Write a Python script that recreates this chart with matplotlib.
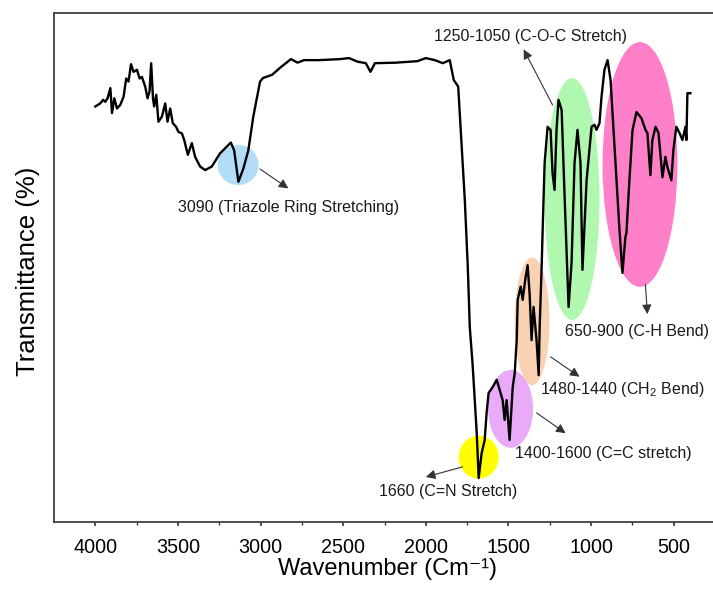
import matplotlib
matplotlib.use('Agg')
import matplotlib.pyplot as plt
from matplotlib.patches import Ellipse
from matplotlib.ticker import FixedLocator

plt.rcParams['font.family'] = ['Liberation Sans', 'DejaVu Sans']
plt.rcParams['mathtext.fontset'] = 'custom'
plt.rcParams['mathtext.rm'] = 'Liberation Sans'
plt.rcParams['mathtext.default'] = 'regular'

# spectre (nombre d'onde en cm-1, transmittance en unites arbitraires)
wavenumber = [4000, 3970, 3953, 3940, 3926, 3909, 3899, 3885, 3869, 3849, 3829, 3813,
              3799, 3784, 3769, 3748, 3732, 3718, 3698, 3684, 3672, 3662, 3651, 3644,
              3631, 3618, 3597, 3577, 3563, 3547, 3531, 3511, 3497, 3476,
              3462, 3440, 3416, 3396, 3366, 3335, 3295, 3245, 3180, 3160, 3134, 3104,
              3074, 3044, 3003, 2985, 2931, 2882, 2816, 2776, 2737, 2647, 2520, 2465,
              2413, 2363, 2335, 2308, 2181, 2050, 2000, 1946, 1897, 1855, 1831, 1804,
              1764, 1746, 1734, 1716, 1692, 1680, 1662, 1644, 1632, 1620, 1595, 1571,
              1553, 1535, 1523, 1511, 1493, 1474, 1462, 1450, 1444, 1426, 1414, 1396,
              1384, 1372, 1360, 1348, 1330, 1317, 1311, 1299, 1293, 1281, 1263, 1245,
              1233, 1221, 1209, 1197, 1178, 1160, 1136, 1118, 1100, 1082, 1064, 1052,
              1027, 997, 979, 967, 949, 937, 919, 900, 882, 858, 828, 810, 792, 786,
              768, 749, 725, 695, 671, 659, 641, 629, 610, 592, 568, 550, 538, 514,
              502, 484, 465, 447, 429, 423, 417, 399]
transmittance = [81.7, 82.3, 83.0, 82.6, 83.3, 85.3, 80.4, 83.3, 81.3, 82.0, 83.6, 87.2,
                 86.6, 90.0, 88.5, 88.9, 87.2, 87.5, 85.6, 83.3, 84.6, 90.2, 83.3, 81.7,
                 84.0, 78.7, 79.7, 82.3, 78.7, 81.3, 78.4, 77.7, 76.7, 76.4,
                 75.1, 72.2, 74.5, 71.8, 69.9, 69.2, 69.9, 72.5, 74.6, 73.1, 66.9, 69.5,
                 73.1, 79.7, 86.6, 87.3, 87.9, 89.3, 91.0, 90.3, 90.8, 90.8, 91.0, 91.2,
                 90.5, 90.2, 88.5, 90.2, 90.3, 90.6, 91.2, 90.8, 90.2, 90.8, 86.9, 85.6,
                 63.3, 50.2, 38.4, 30.6, 17.6, 8.7, 13.6, 16.1, 21.5, 25.4, 26.6, 28.0,
                 26.0, 24.0, 20.1, 24.0, 16.2, 26.6, 29.3, 35.8, 43.7, 46.3, 43.7, 48.2,
                 50.5, 45.0, 35.8, 42.3, 35.8, 28.9, 38.4, 50.2, 57.4, 70.6, 77.7, 77.1,
                 68.6, 65.3, 77.1, 83.0, 81.0, 63.9, 42.3, 51.0, 70.6, 77.1, 70.6, 49.6,
                 67.2, 77.7, 78.1, 77.1, 78.4, 83.5, 88.9, 90.8, 86.9, 73.7, 57.4, 49.0,
                 56.1, 56.8, 67.2, 77.1, 80.6, 79.4, 77.1, 76.5, 68.2, 75.1, 77.7, 76.5,
                 67.8, 71.8, 69.8, 67.2, 73.1, 77.7, 76.5, 75.1, 77.7, 75.1, 84.3, 84.3]

# zones colorees : centre (cm-1, T), largeur, hauteur, couleur
zone_centres = [(3136, 70.2), (1680, 12.8), (1487, 22.3), (1357, 39.5), (1115, 63.5), (704, 70.3)]
zone_tailles = [(248, 7.9), (242, 8.45), (272, 15.3), (211, 25.1), (332, 47.5), (453, 48.1)]
zone_couleurs = ['#b3ddf7', '#ffff00', '#e9aaf7', '#f8d2b3', '#b0f8b0', '#ff80c8']

# annotations : texte, position du texte, debut et fin de la fleche
labels = ['3090 (Triazole Ring Stretching)', '1660 (C=N Stretch)', '1400-1600 (C=C stretch)',
          '1480-1440 (CH$_2$ Bend)', '650-900 (C-H Bend)', '1250-1050 (C-O-C Stretch)']
label_pos = [(2828, 61.8), (1862, 6.1), (925, 13.6), (810, 26.0), (722, 37.4), (1369, 95.4)]
fleche_debut = [(3003, 69.4), (1777, 10.9), (1330, 21.5), (1245, 32.5), (671, 46.7), (1233, 82.0)]
fleche_fin = [(2832, 65.6), (2000, 8.9), (1154, 17.5), (1070, 28.6), (659, 40.9), (1408, 92.9)]

major_ticks = [4000, 3500, 3000, 2500, 2000, 1500, 1000, 500]
minor_ticks = [3750, 3250, 2750, 2250, 1750, 1250, 750, 250]

fig = plt.figure(figsize=(7.13, 6.02), dpi=100)
ax = fig.add_axes([54 / 713, 79.7 / 602, 661 / 713, 509 / 602])

for c, t, col in zip(zone_centres, zone_tailles, zone_couleurs):
    ax.add_patch(Ellipse(c, t[0], t[1], facecolor=col, edgecolor='none', zorder=1))

ax.plot(wavenumber, transmittance, color='black', lw=1.7, zorder=3)

for txt, pos, d, f in zip(labels, label_pos, fleche_debut, fleche_fin):
    ax.annotate('', xy=f, xytext=d,
                arrowprops=dict(arrowstyle='-|>', color='#333333', lw=0.8,
                                mutation_scale=14, shrinkA=0, shrinkB=0), zorder=4)
    ax.text(pos[0], pos[1], txt, ha='center', va='center', fontsize=11.5,
            color='#1a1a1a', zorder=5)

ax.set_xlim(4250, 250)
ax.set_ylim(0, 100)
ax.xaxis.set_major_locator(FixedLocator(major_ticks))
ax.xaxis.set_minor_locator(FixedLocator(minor_ticks))
ax.set_yticks([])
ax.tick_params(axis='x', which='major', direction='out', length=3, width=1.2,
               labelsize=14.2, color='#333333', pad=8.5)
ax.tick_params(axis='x', which='minor', direction='out', length=2, width=1.0, color='#333333')
for s in ax.spines.values():
    s.set_color('#404040')
    s.set_linewidth(1.3)

ax.set_xlabel('Wavenumber (Cm\u207b\u00b9)', fontsize=17)
ax.set_ylabel('Transmittance (%)', fontsize=18.5)
ax.xaxis.set_label_coords(0.504, -0.092)
ax.xaxis.label.set_va('center')
ax.yaxis.set_label_coords(-0.021, 0.494)

fig.savefig('out.png', dpi=100)
